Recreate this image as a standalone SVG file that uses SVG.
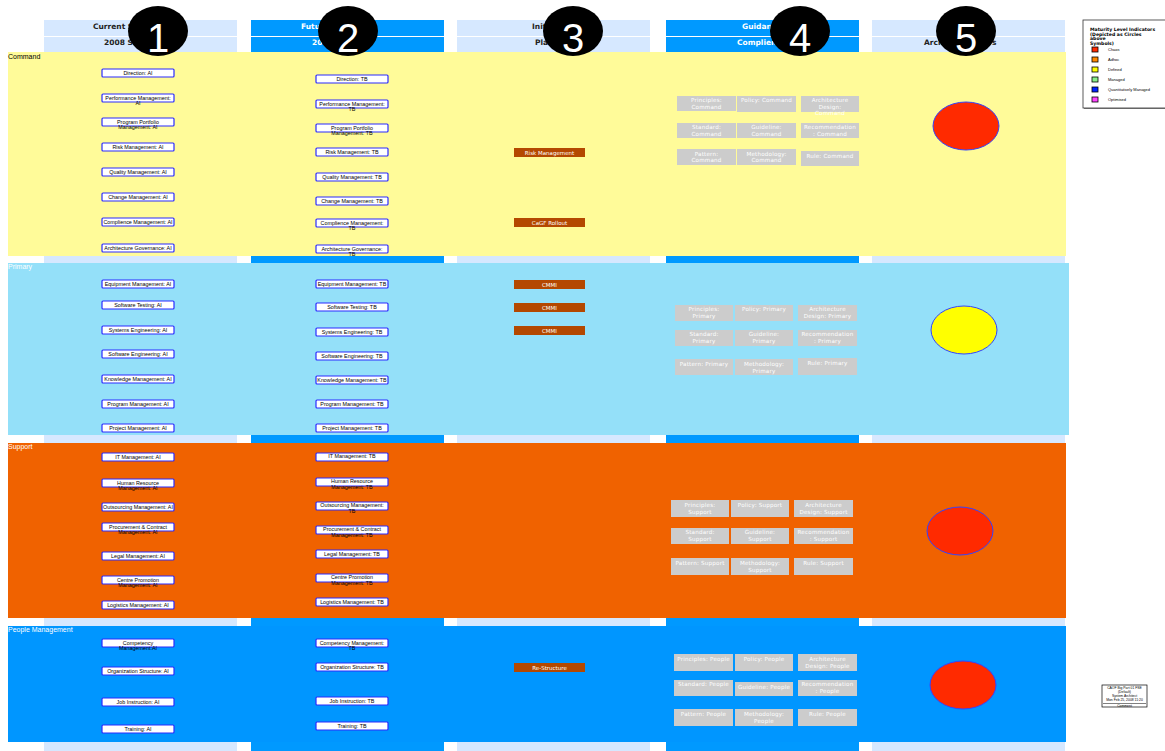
<svg xmlns="http://www.w3.org/2000/svg" width="1165" height="751" viewBox="0 0 1165 751">
<style>
.lb{fill:#d6e8ff}
.db{fill:#0099ff}
.ht{font-family:"DejaVu Sans",sans-serif;font-size:7.5px;font-weight:bold}
.hd{fill:#222}
.hw{fill:#fff}
.band{font-family:"Liberation Sans",Arial,sans-serif;font-size:7px}
.nb{fill:#fff;stroke:#2b2bff;stroke-width:1.2}
.nt{font-family:"Liberation Sans",Arial,sans-serif;font-size:5.4px;fill:#000;text-anchor:middle}
.bb{fill:#b44800}
.bt{font-family:"DejaVu Sans",sans-serif;font-size:5.5px;fill:#fff;text-anchor:middle}
.gb{fill:#cccccc}
.gt{font-family:"DejaVu Sans",sans-serif;font-size:5.6px;fill:#fff;text-anchor:middle;letter-spacing:0.2px}
.circ{fill:#000}
.num{font-family:"Liberation Sans",Arial,sans-serif;font-size:40px;fill:#fff;text-anchor:middle}
.mat{stroke:#3344ff;stroke-width:1}
.lgt{font-family:"DejaVu Sans",sans-serif;font-size:4.6px;font-weight:bold;fill:#000}
.lgi{font-family:"Liberation Sans",Arial,sans-serif;font-size:4px;fill:#000}
.sq{stroke:#000;stroke-width:0.8}
</style>
<rect width="1165" height="751" fill="#fff"/>

<g id="columns">
<rect class="lb" x="44" y="20" width="193" height="16"/>
<rect class="lb" x="44" y="37" width="193" height="714"/>
<rect class="db" x="251" y="20" width="193" height="16"/>
<rect class="db" x="251" y="37" width="193" height="714"/>
<rect class="lb" x="457" y="20" width="193" height="16"/>
<rect class="lb" x="457" y="37" width="193" height="714"/>
<rect class="db" x="666" y="20" width="193" height="16"/>
<rect class="db" x="666" y="37" width="193" height="714"/>
<rect class="lb" x="872" y="20" width="193" height="16"/>
<rect class="lb" x="872" y="37" width="193" height="714"/>
</g>
<g id="headers">
<text class="ht hd" x="93" y="29">Current St</text>
<text class="ht hd" x="104" y="45">2008 S</text>
<text class="ht hw" x="301" y="29">Futur</text>
<text class="ht hw" x="312" y="45">20</text>
<text class="ht hd" x="532" y="29">Initi</text>
<text class="ht hd" x="535" y="45">Plan</text>
<text class="ht hw" x="742" y="29">Guidanc</text>
<text class="ht hw" x="737" y="45">Complienc</text>
<text class="ht hd" x="924" y="45">Arch</text>
<text class="ht hd" x="992" y="45">s</text>
</g>

<g id="bands">
<rect x="8" y="52" width="1058" height="204" fill="#fffb99"/>
<rect x="8" y="263" width="1061" height="172" fill="#94e0f9"/>
<rect x="8" y="443" width="1058" height="175" fill="#f06200"/>
<rect x="8" y="626" width="1058" height="116" fill="#0096ff"/>
<text class="band" x="8" y="59" fill="#000">Command</text>
<text class="band" x="8" y="269" fill="#fff">Primary</text>
<text class="band" x="8" y="449" fill="#fff">Support</text>
<text class="band" x="8" y="632" fill="#fff">People Management</text>
</g>

<g id="current-state">
<g id="c1-direction"><rect class="nb" x="102" y="69" width="72" height="8" rx="1"/><text class="nt" x="138" y="75">Direction: AI</text></g>
<g id="c1-performance"><rect class="nb" x="102" y="94" width="72" height="8" rx="1"/><text class="nt" x="138" y="99.5">Performance Management:</text><text class="nt" x="138" y="105">AI</text></g>
<g id="c1-portfolio"><rect class="nb" x="102" y="118" width="72" height="8" rx="1"/><text class="nt" x="138" y="123.5">Program Portfolio</text><text class="nt" x="138" y="129">Management: AI</text></g>
<g id="c1-risk"><rect class="nb" x="102" y="143" width="72" height="8" rx="1"/><text class="nt" x="138" y="149">Risk Management: AI</text></g>
<g id="c1-quality"><rect class="nb" x="102" y="168" width="72" height="8" rx="1"/><text class="nt" x="138" y="174">Quality Management: AI</text></g>
<g id="c1-change"><rect class="nb" x="102" y="193" width="72" height="8" rx="1"/><text class="nt" x="138" y="199">Change Management: AI</text></g>
<g id="c1-compliance"><rect class="nb" x="102" y="218" width="72" height="8" rx="1"/><text class="nt" x="138" y="224">Complience Management: AI</text></g>
<g id="c1-archgov"><rect class="nb" x="102" y="244" width="72" height="8" rx="1"/><text class="nt" x="138" y="250">Architecture Governance: AI</text></g>

<g id="c1-equipment"><rect class="nb" x="102" y="280" width="72" height="8" rx="1"/><text class="nt" x="138" y="286">Equipment Management: AI</text></g>
<g id="c1-swtest"><rect class="nb" x="102" y="301" width="72" height="8" rx="1"/><text class="nt" x="138" y="307">Software Testing: AI</text></g>
<g id="c1-syseng"><rect class="nb" x="102" y="326" width="72" height="8" rx="1"/><text class="nt" x="138" y="332">Systems Engineering: AI</text></g>
<g id="c1-sweng"><rect class="nb" x="102" y="350" width="72" height="8" rx="1"/><text class="nt" x="138" y="356">Software Engineering: AI</text></g>
<g id="c1-knowledge"><rect class="nb" x="102" y="375" width="72" height="8" rx="1"/><text class="nt" x="138" y="381">Knowledge Management: AI</text></g>
<g id="c1-program"><rect class="nb" x="102" y="400" width="72" height="8" rx="1"/><text class="nt" x="138" y="406">Program Management: AI</text></g>
<g id="c1-project"><rect class="nb" x="102" y="424" width="72" height="8" rx="1"/><text class="nt" x="138" y="430">Project Management: AI</text></g>

<g id="c1-it"><rect class="nb" x="102" y="453" width="72" height="8" rx="1"/><text class="nt" x="138" y="459">IT Management: AI</text></g>
<g id="c1-hr"><rect class="nb" x="102" y="479" width="72" height="8" rx="1"/><text class="nt" x="138" y="484.5">Human Resource</text><text class="nt" x="138" y="490">Management: AI</text></g>
<g id="c1-outsourcing"><rect class="nb" x="102" y="503" width="72" height="8" rx="1"/><text class="nt" x="138" y="509">Outsourcing Management: AI</text></g>
<g id="c1-procurement"><rect class="nb" x="102" y="523" width="72" height="8" rx="1"/><text class="nt" x="138" y="528.5">Procurement &amp; Contract</text><text class="nt" x="138" y="534">Management: AI</text></g>
<g id="c1-legal"><rect class="nb" x="102" y="552" width="72" height="8" rx="1"/><text class="nt" x="138" y="558">Legal Management: AI</text></g>
<g id="c1-centre"><rect class="nb" x="102" y="576" width="72" height="8" rx="1"/><text class="nt" x="138" y="581.5">Centre Promotion</text><text class="nt" x="138" y="587">Management: AI</text></g>
<g id="c1-logistics"><rect class="nb" x="102" y="601" width="72" height="8" rx="1"/><text class="nt" x="138" y="607">Logistics Management: AI</text></g>

<g id="c1-competency"><rect class="nb" x="102" y="639" width="72" height="8" rx="1"/><text class="nt" x="138" y="644.5">Competency</text><text class="nt" x="138" y="650">Management:AI</text></g>
<g id="c1-org"><rect class="nb" x="102" y="667" width="72" height="8" rx="1"/><text class="nt" x="138" y="673">Organization Structure: AI</text></g>
<g id="c1-job"><rect class="nb" x="102" y="698" width="72" height="8" rx="1"/><text class="nt" x="138" y="704">Job Instruction: AI</text></g>
<g id="c1-training"><rect class="nb" x="102" y="725" width="72" height="8" rx="1"/><text class="nt" x="138" y="731">Training: AI</text></g>
</g>

<g id="future-state">
<g id="c2-direction"><rect class="nb" x="316" y="75" width="72" height="8" rx="1"/><text class="nt" x="352" y="81">Direction: TB</text></g>
<g id="c2-performance"><rect class="nb" x="316" y="100" width="72" height="8" rx="1"/><text class="nt" x="352" y="105.5">Performance Management:</text><text class="nt" x="352" y="111">TB</text></g>
<g id="c2-portfolio"><rect class="nb" x="316" y="124" width="72" height="8" rx="1"/><text class="nt" x="352" y="129.5">Program Portfolio</text><text class="nt" x="352" y="135">Management: TB</text></g>
<g id="c2-risk"><rect class="nb" x="316" y="148" width="72" height="8" rx="1"/><text class="nt" x="352" y="154">Risk Management: TB</text></g>
<g id="c2-quality"><rect class="nb" x="316" y="173" width="72" height="8" rx="1"/><text class="nt" x="352" y="179">Quality Management: TB</text></g>
<g id="c2-change"><rect class="nb" x="316" y="197" width="72" height="8" rx="1"/><text class="nt" x="352" y="203">Change Management: TB</text></g>
<g id="c2-compliance"><rect class="nb" x="316" y="219" width="72" height="8" rx="1"/><text class="nt" x="352" y="224.5">Complience Management:</text><text class="nt" x="352" y="230">TB</text></g>
<g id="c2-archgov"><rect class="nb" x="316" y="245" width="72" height="8" rx="1"/><text class="nt" x="352" y="250.5">Architecture Governance:</text><text class="nt" x="352" y="256">TB</text></g>

<g id="c2-equipment"><rect class="nb" x="316" y="280" width="72" height="8" rx="1"/><text class="nt" x="352" y="286">Equipment Management: TB</text></g>
<g id="c2-swtest"><rect class="nb" x="316" y="303" width="72" height="8" rx="1"/><text class="nt" x="352" y="309">Software Testing: TB</text></g>
<g id="c2-syseng"><rect class="nb" x="316" y="328" width="72" height="8" rx="1"/><text class="nt" x="352" y="334">Systems Engineering: TB</text></g>
<g id="c2-sweng"><rect class="nb" x="316" y="352" width="72" height="8" rx="1"/><text class="nt" x="352" y="358">Software Engineering: TB</text></g>
<g id="c2-knowledge"><rect class="nb" x="316" y="376" width="72" height="8" rx="1"/><text class="nt" x="352" y="382">Knowledge Management: TB</text></g>
<g id="c2-program"><rect class="nb" x="316" y="400" width="72" height="8" rx="1"/><text class="nt" x="352" y="406">Program Management: TB</text></g>
<g id="c2-project"><rect class="nb" x="316" y="424" width="72" height="8" rx="1"/><text class="nt" x="352" y="430">Project Management: TB</text></g>

<g id="c2-it"><rect class="nb" x="316" y="453" width="72" height="8" rx="1"/><text class="nt" x="352" y="458">IT Management: TB</text></g>
<g id="c2-hr"><rect class="nb" x="316" y="478" width="72" height="8" rx="1"/><text class="nt" x="352" y="483">Human Resource</text><text class="nt" x="352" y="488.5">Management: TB</text></g>
<g id="c2-outsourcing"><rect class="nb" x="316" y="502" width="72" height="8" rx="1"/><text class="nt" x="352" y="507">Outsourcing Management:</text><text class="nt" x="352" y="512.5">TB</text></g>
<g id="c2-procurement"><rect class="nb" x="316" y="526" width="72" height="8" rx="1"/><text class="nt" x="352" y="531">Procurement &amp; Contract</text><text class="nt" x="352" y="536.5">Management: TB</text></g>
<g id="c2-legal"><rect class="nb" x="316" y="550" width="72" height="8" rx="1"/><text class="nt" x="352" y="555.5">Legal Management: TB</text></g>
<g id="c2-centre"><rect class="nb" x="316" y="574" width="72" height="8" rx="1"/><text class="nt" x="352" y="579">Centre Promotion</text><text class="nt" x="352" y="584.5">Management: TB</text></g>
<g id="c2-logistics"><rect class="nb" x="316" y="598" width="72" height="8" rx="1"/><text class="nt" x="352" y="603.5">Logistics Management: TB</text></g>

<g id="c2-competency"><rect class="nb" x="316" y="639" width="72" height="8" rx="1"/><text class="nt" x="352" y="644.5">Competency Management:</text><text class="nt" x="352" y="650">TB</text></g>
<g id="c2-org"><rect class="nb" x="316" y="663" width="72" height="8" rx="1"/><text class="nt" x="352" y="668.5">Organization Structure: TB</text></g>
<g id="c2-job"><rect class="nb" x="316" y="697" width="72" height="8" rx="1"/><text class="nt" x="352" y="702.5">Job Instruction: TB</text></g>
<g id="c2-training"><rect class="nb" x="316" y="722" width="72" height="8" rx="1"/><text class="nt" x="352" y="727.5">Training: TB</text></g>
</g>

<g id="initiatives">
<g id="i-risk"><rect class="bb" x="514" y="148" width="71" height="9"/><text class="bt" x="549.5" y="154.5">Risk Management</text></g>
<g id="i-cagf"><rect class="bb" x="514" y="218" width="71" height="9"/><text class="bt" x="549.5" y="224.5">CaGF Rollout</text></g>
<g id="i-cmmi1"><rect class="bb" x="514" y="280" width="71" height="9"/><text class="bt" x="549.5" y="286.5">CMMI</text></g>
<g id="i-cmmi2"><rect class="bb" x="514" y="303" width="71" height="9"/><text class="bt" x="549.5" y="309.5">CMMI</text></g>
<g id="i-cmmi3"><rect class="bb" x="514" y="326" width="71" height="9"/><text class="bt" x="549.5" y="332.5">CMMI</text></g>
<g id="i-restructure"><rect class="bb" x="514" y="663" width="71" height="9"/><text class="bt" x="549.5" y="669.5">Re-Structure</text></g>
</g>

<g id="guidance-command">
<g id="g-cmd-principles"><rect class="gb" x="677" y="96" width="59" height="15"/><text class="gt" x="706.5" y="102">Principles:</text><text class="gt" x="706.5" y="108.5">Command</text></g>
<g id="g-cmd-policy"><rect class="gb" x="737" y="96" width="59" height="16"/><text class="gt" x="766.5" y="102">Policy: Command</text></g>
<g id="g-cmd-arch"><rect class="gb" x="801" y="96" width="58" height="16"/><text class="gt" x="830" y="102">Architecture</text><text class="gt" x="830" y="108.5">Design:</text><text class="gt" x="830" y="115">Command</text></g>
<g id="g-cmd-standard"><rect class="gb" x="677" y="123" width="59" height="15"/><text class="gt" x="706.5" y="129">Standard:</text><text class="gt" x="706.5" y="135.5">Command</text></g>
<g id="g-cmd-guideline"><rect class="gb" x="737" y="123" width="59" height="15"/><text class="gt" x="766.5" y="129">Guideline:</text><text class="gt" x="766.5" y="135.5">Command</text></g>
<g id="g-cmd-recommend"><rect class="gb" x="801" y="123" width="58" height="15"/><text class="gt" x="830" y="129">Recommendation</text><text class="gt" x="830" y="135.5">: Command</text></g>
<g id="g-cmd-pattern"><rect class="gb" x="677" y="149" width="59" height="16"/><text class="gt" x="706.5" y="155.5">Pattern:</text><text class="gt" x="706.5" y="162">Command</text></g>
<g id="g-cmd-method"><rect class="gb" x="737" y="149" width="59" height="16"/><text class="gt" x="766.5" y="155.5">Methodology:</text><text class="gt" x="766.5" y="162">Command</text></g>
<g id="g-cmd-rule"><rect class="gb" x="801" y="151" width="58" height="15"/><text class="gt" x="830" y="158">Rule: Command</text></g>
</g>

<g id="guidance-primary">
<g id="g-pri-principles"><rect class="gb" x="675" y="305" width="58" height="16"/><text class="gt" x="704" y="311">Principles:</text><text class="gt" x="704" y="318">Primary</text></g>
<g id="g-pri-policy"><rect class="gb" x="735" y="305" width="58" height="16"/><text class="gt" x="764" y="311">Policy: Primary</text></g>
<g id="g-pri-arch"><rect class="gb" x="798" y="305" width="59" height="16"/><text class="gt" x="827.5" y="311">Architecture</text><text class="gt" x="827.5" y="318">Design: Primary</text></g>
<g id="g-pri-standard"><rect class="gb" x="675" y="330" width="58" height="16"/><text class="gt" x="704" y="336">Standard:</text><text class="gt" x="704" y="343">Primary</text></g>
<g id="g-pri-guideline"><rect class="gb" x="735" y="330" width="58" height="16"/><text class="gt" x="764" y="336">Guideline:</text><text class="gt" x="764" y="343">Primary</text></g>
<g id="g-pri-recommend"><rect class="gb" x="798" y="330" width="59" height="16"/><text class="gt" x="827.5" y="336">Recommendation</text><text class="gt" x="827.5" y="343">: Primary</text></g>
<g id="g-pri-pattern"><rect class="gb" x="675" y="359" width="58" height="16"/><text class="gt" x="704" y="366">Pattern: Primary</text></g>
<g id="g-pri-method"><rect class="gb" x="735" y="359" width="58" height="16"/><text class="gt" x="764" y="366">Methodology:</text><text class="gt" x="764" y="372.5">Primary</text></g>
<g id="g-pri-rule"><rect class="gb" x="798" y="358" width="59" height="17"/><text class="gt" x="827.5" y="364.5">Rule: Primary</text></g>
</g>

<g id="guidance-support">
<g id="g-sup-principles"><rect class="gb" x="671" y="500" width="58" height="17"/><text class="gt" x="700" y="506.5">Principles:</text><text class="gt" x="700" y="513.5">Support</text></g>
<g id="g-sup-policy"><rect class="gb" x="731" y="500" width="58" height="17"/><text class="gt" x="760" y="506.5">Policy: Support</text></g>
<g id="g-sup-arch"><rect class="gb" x="794" y="500" width="59" height="17"/><text class="gt" x="823.5" y="506.5">Architecture</text><text class="gt" x="823.5" y="513.5">Design: Support</text></g>
<g id="g-sup-standard"><rect class="gb" x="671" y="528" width="58" height="16"/><text class="gt" x="700" y="534">Standard:</text><text class="gt" x="700" y="541">Support</text></g>
<g id="g-sup-guideline"><rect class="gb" x="731" y="528" width="58" height="16"/><text class="gt" x="760" y="534">Guideline:</text><text class="gt" x="760" y="541">Support</text></g>
<g id="g-sup-recommend"><rect class="gb" x="794" y="528" width="59" height="16"/><text class="gt" x="823.5" y="534">Recommendation</text><text class="gt" x="823.5" y="541">: Support</text></g>
<g id="g-sup-pattern"><rect class="gb" x="671" y="558" width="58" height="17"/><text class="gt" x="700" y="564.5">Pattern: Support</text></g>
<g id="g-sup-method"><rect class="gb" x="731" y="558" width="58" height="17"/><text class="gt" x="760" y="564.5">Methodology:</text><text class="gt" x="760" y="571.5">Support</text></g>
<g id="g-sup-rule"><rect class="gb" x="794" y="558" width="59" height="17"/><text class="gt" x="823.5" y="564.5">Rule: Support</text></g>
</g>

<g id="guidance-people">
<g id="g-peo-principles"><rect class="gb" x="674" y="654" width="59" height="17"/><text class="gt" x="703.5" y="660.5">Principles: People</text></g>
<g id="g-peo-policy"><rect class="gb" x="735" y="654" width="58" height="17"/><text class="gt" x="764" y="660.5">Policy: People</text></g>
<g id="g-peo-arch"><rect class="gb" x="798" y="654" width="59" height="17"/><text class="gt" x="827.5" y="660.5">Architecture</text><text class="gt" x="827.5" y="667.5">Design: People</text></g>
<g id="g-peo-standard"><rect class="gb" x="674" y="680" width="59" height="16"/><text class="gt" x="703.5" y="686">Standard: People</text></g>
<g id="g-peo-guideline"><rect class="gb" x="735" y="682" width="58" height="14"/><text class="gt" x="764" y="689">Guideline: People</text></g>
<g id="g-peo-recommend"><rect class="gb" x="798" y="680" width="59" height="16"/><text class="gt" x="827.5" y="686">Recommendation</text><text class="gt" x="827.5" y="693">: People</text></g>
<g id="g-peo-pattern"><rect class="gb" x="674" y="709" width="59" height="17"/><text class="gt" x="703.5" y="715.5">Pattern: People</text></g>
<g id="g-peo-method"><rect class="gb" x="735" y="709" width="58" height="17"/><text class="gt" x="764" y="715.5">Methodology:</text><text class="gt" x="764" y="722.5">People</text></g>
<g id="g-peo-rule"><rect class="gb" x="798" y="709" width="59" height="17"/><text class="gt" x="827.5" y="715.5">Rule: People</text></g>
</g>

<g id="maturity">
<ellipse id="m-command" class="mat" cx="966" cy="126" rx="33" ry="24" fill="#ff2a00"/>
<ellipse id="m-primary" class="mat" cx="964" cy="330" rx="33" ry="24" fill="#ffff00"/>
<ellipse id="m-support" class="mat" cx="960" cy="531" rx="33" ry="24" fill="#ff2a00"/>
<ellipse id="m-people" class="mat" cx="963" cy="685" rx="33" ry="24" fill="#ff2a00"/>
</g>

<g id="legend">
<rect x="1084" y="21" width="90" height="88" fill="#888"/>
<rect x="1083" y="20" width="90" height="88" fill="#fff" stroke="#333" stroke-width="0.8"/>
<text class="lgt" x="1090" y="31">Maturity Level Indicators</text>
<text class="lgt" x="1090" y="35.5">(Depicted as Circles</text>
<text class="lgt" x="1090" y="40">above</text>
<text class="lgt" x="1090" y="44.5">Symbols)</text>
<rect class="sq" x="1092" y="47" width="6" height="5" fill="#ff2a00"/><text class="lgi" x="1108" y="51">Chaos</text>
<rect class="sq" x="1092" y="57" width="6" height="5" fill="#ff8800"/><text class="lgi" x="1108" y="61">Adhoc</text>
<rect class="sq" x="1092" y="67" width="6" height="5" fill="#ffff00"/><text class="lgi" x="1108" y="71">Defined</text>
<rect class="sq" x="1092" y="77" width="6" height="5" fill="#88ee88"/><text class="lgi" x="1108" y="81">Managed</text>
<rect class="sq" x="1092" y="87" width="6" height="5" fill="#0022ff"/><text class="lgi" x="1108" y="91">Quantitatively Managed</text>
<rect class="sq" x="1092" y="97" width="6" height="5" fill="#ff44ff"/><text class="lgi" x="1108" y="101">Optimised</text>
</g>

<g id="title-block">
<rect x="1102" y="685" width="45" height="22" fill="#fff" stroke="#000" stroke-width="0.7"/>
<line x1="1103" y1="703.5" x2="1146" y2="703.5" stroke="#000" stroke-width="0.5"/>
<g font-family="Liberation Sans,Arial,sans-serif" font-size="3.4" text-anchor="middle" fill="#000">
<text x="1124.5" y="689">CAOF Big Part 01 FSE</text>
<text x="1124.5" y="693">(Default)</text>
<text x="1124.5" y="697">System Architect</text>
<text x="1124.5" y="701">Mon Feb 25, 2008 11:20</text>
<text x="1124.5" y="706.5">Comment</text>
</g>
</g>

<g id="connectors"></g>

<g id="markers">
<g id="marker-1"><ellipse class="circ" cx="158" cy="31" rx="30" ry="25"/><text class="num" x="158" y="52">1</text></g>
<g id="marker-2"><ellipse class="circ" cx="348" cy="31" rx="30" ry="25"/><text class="num" x="348" y="52">2</text></g>
<g id="marker-3"><ellipse class="circ" cx="573" cy="31" rx="30" ry="25"/><text class="num" x="573" y="52">3</text></g>
<g id="marker-4"><ellipse class="circ" cx="800" cy="31" rx="30" ry="25"/><text class="num" x="800" y="52">4</text></g>
<g id="marker-5"><ellipse class="circ" cx="966" cy="31" rx="30" ry="25"/><text class="num" x="966" y="52">5</text></g>
</g>
</svg>
